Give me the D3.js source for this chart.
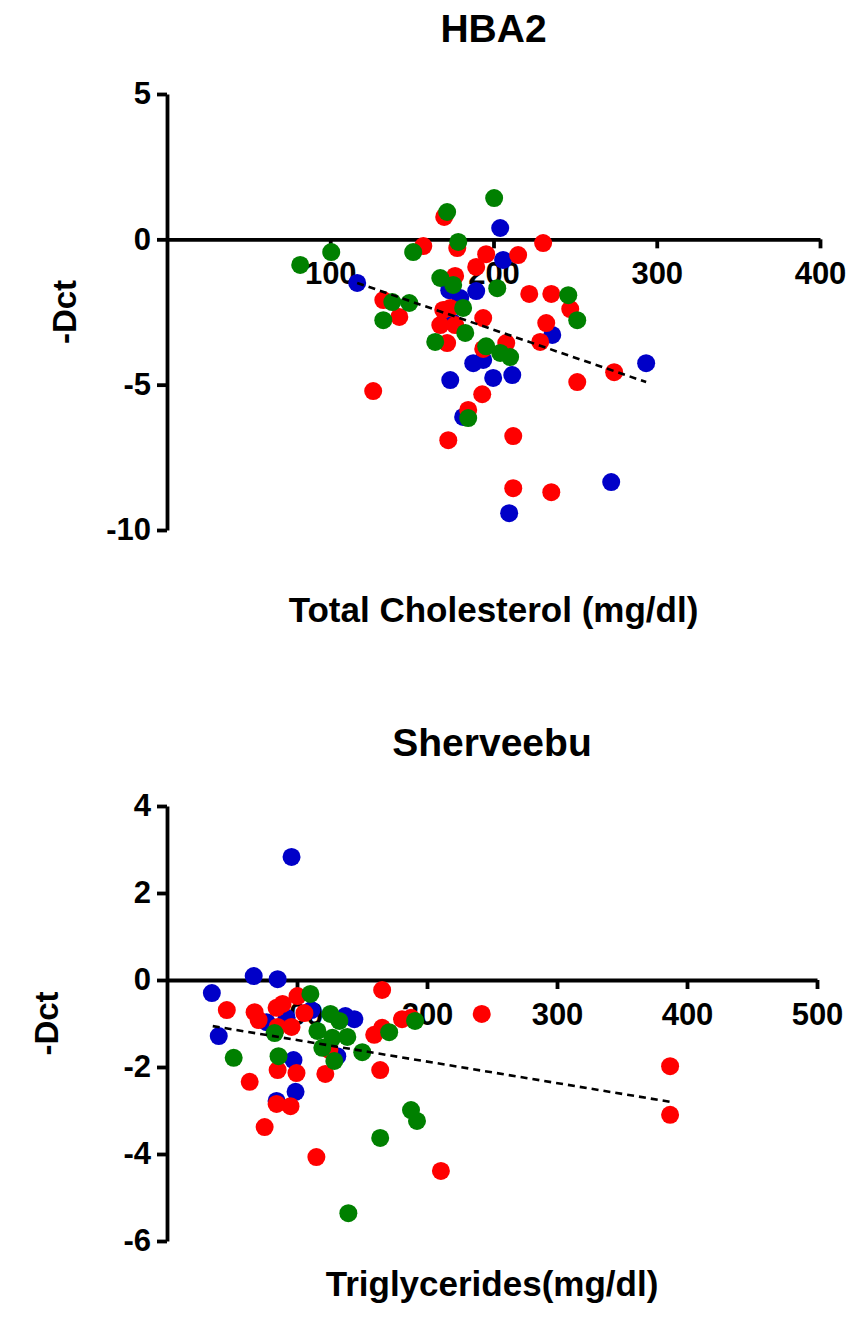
<!DOCTYPE html>
<html>
<head>
<meta charset="utf-8">
<script src="https://cdn.jsdelivr.net/npm/d3@7"></script>
<style>
    body { margin: 0; background: white; }
    text { font-family: "Liberation Sans", Arial, sans-serif; font-weight: bold; fill: black; }
</style>
</head>
<body>
<script>
"use strict";
(function(){

    // HBA2 vs Total Cholesterol, [x, y] per group
    const hbaBlue = [
        [116.5, -1.50], [172.9, -1.75], [179.6, -2.02], [189.4, -1.78], [174.7, -2.85],
        [204.1, 0.39], [205.9, -0.71], [236.0, -3.29], [187.6, -4.26], [193.7, -4.15],
        [173.5, -4.84], [199.8, -4.77], [211.5, -4.67], [293.5, -4.26], [272.1, -8.35],
        [209.6, -9.42], [181.4, -6.11]
    ]
    const hbaRed = [
        [157.0, -0.23], [169.8, 0.77], [177.8, -0.30], [195.5, -0.51], [215.1, -0.54],
        [230.4, -0.13], [189.4, -0.95], [176.5, -1.26], [221.9, -1.88], [235.4, -1.88],
        [247.0, -2.40], [132.5, -2.09], [142.3, -2.67], [169.2, -2.43], [173.5, -2.36],
        [167.4, -2.95], [176.5, -2.95], [193.7, -2.71], [171.6, -3.57], [232.3, -2.88],
        [228.6, -3.53], [193.7, -3.77], [207.8, -3.57], [273.9, -4.57], [251.3, -4.91],
        [126.3, -5.22], [193.1, -5.33], [184.5, -5.87], [172.3, -6.91], [212.1, -6.77],
        [212.1, -8.56], [235.4, -8.70]
    ]
    const hbaGreen = [
        [81.6, -0.88], [100.6, -0.44], [150.8, -0.44], [171.6, 0.94], [178.4, -0.09],
        [200.4, 1.42], [167.4, -1.33], [175.3, -1.57], [202.3, -1.68], [138.0, -2.16],
        [148.4, -2.19], [132.5, -2.78], [181.4, -2.36], [164.3, -3.53], [182.7, -3.22],
        [195.5, -3.68], [204.1, -3.91], [210.2, -4.05], [245.8, -1.92], [251.3, -2.78],
        [184.5, -6.15]
    ]
    const hbaTrend = [[116.5, -1.50], [293.5, -4.91]]
    const hbaXTicks = [100, 200, 300, 400]
    const hbaYTicks = [5, 0, -5, -10]

    // Sherveebu vs Triglycerides
    const shBlue = [
        [95.8, 2.83], [34.5, -0.30], [66.7, 0.09], [85.1, 0.02], [39.8, -1.29],
        [76.6, -0.97], [92.0, -0.87], [111.1, -0.69], [137.2, -0.83], [144.1, -0.90],
        [97.3, -1.84], [98.9, -2.57], [84.3, -2.78], [131.0, -1.75]
    ]
    const shRed = [
        [46.0, -0.69], [67.4, -0.74], [70.5, -0.92], [84.3, -0.64], [88.9, -0.55],
        [85.1, -1.08], [95.8, -1.08], [100.4, -0.37], [105.7, -0.76], [85.1, -2.07],
        [99.6, -2.14], [63.6, -2.34], [84.3, -2.85], [95.0, -2.90], [75.1, -3.38],
        [114.9, -4.07], [121.8, -2.16], [124.9, -1.61], [159.4, -1.26], [165.5, -1.10],
        [164.0, -2.07], [165.5, -0.23], [180.8, -0.90], [187.7, -0.87], [210.7, -4.39],
        [242.1, -0.78], [387.0, -1.98], [387.0, -3.10]
    ]
    const shGreen = [
        [110.3, -0.32], [125.7, -0.78], [132.6, -0.94], [115.7, -1.17], [127.2, -1.33],
        [138.7, -1.31], [119.5, -1.56], [128.7, -1.86], [150.2, -1.66], [170.9, -1.20],
        [190.8, -0.94], [82.8, -1.22], [51.3, -1.79], [85.8, -1.75], [187.7, -2.99],
        [192.3, -3.24], [164.0, -3.63], [139.5, -5.36]
    ]
    const shTrend = [[35.2, -1.06], [387.0, -2.80]]
    const shXTicks = [100, 200, 300, 400, 500]
    const shYTicks = [4, 2, 0, -2, -4, -6]

    const colors = {
        blue: "#0000C8",
        red: "#FF0000",
        green: "#008000"
    }

    const svgContainer = d3.select("body").append("svg")
        .attr("width", 850)
        .attr("height", 1318)

    drawPanel({
        title: "HBA2", xLabel: "Total Cholesterol (mg/dl)",
        xDomain: [0, 400], xRange: [167, 820],
        yDomain: [-10, 5], yRange: [530, 94],
        xTicks: hbaXTicks, yTicks: hbaYTicks,
        groups: [[hbaBlue, colors.blue], [hbaRed, colors.red], [hbaGreen, colors.green]],
        trend: hbaTrend,
        titleY: 42, xLabelY: 622, yLabelX: 76
    })

    drawPanel({
        title: "Sherveebu", xLabel: "Triglycerides(mg/dl)",
        xDomain: [0, 500], xRange: [167, 817],
        yDomain: [-6, 4], yRange: [1241, 806],
        xTicks: shXTicks, yTicks: shYTicks,
        groups: [[shBlue, colors.blue], [shRed, colors.red], [shGreen, colors.green]],
        trend: shTrend,
        titleY: 756, xLabelY: 1296, yLabelX: 58
    })

    function drawPanel(p) {
        const scaleX = d3.scaleLinear().domain(p.xDomain).range(p.xRange)
        const scaleY = d3.scaleLinear().domain(p.yDomain).range(p.yRange)

        const g = svgContainer.append("g")

        const yAxis = d3.axisLeft(scaleY)
            .tickValues(p.yTicks)
            .tickFormat(d => String(d))
            .tickSize(10)
            .tickSizeOuter(0)
            .tickPadding(6)

        const xAxis = d3.axisBottom(scaleX)
            .tickValues(p.xTicks)
            .tickFormat(d => String(d))
            .tickSize(9)
            .tickSizeOuter(0)
            .tickPadding(14)

        const yG = g.append("g")
            .attr("transform", "translate(" + p.xRange[0] + ",0)")
            .call(yAxis)

        const xG = g.append("g")
            .attr("transform", "translate(0," + scaleY(0) + ")")
            .call(xAxis)

        for (const ax of [xG, yG]) {
            ax.select(".domain").attr("stroke", "black").attr("stroke-width", 3.8)
            ax.selectAll(".tick line").attr("stroke", "black").attr("stroke-width", 3.8)
            ax.selectAll(".tick text")
                .attr("fill", "black")
                .style("font-size", "31px")
                .style("font-family", "'Liberation Sans', Arial, sans-serif")
                .style("font-weight", "bold")
        }

        p.groups.forEach(([pts, color]) => {
            g.append("g").selectAll("circle")
                .data(pts)
                .enter()
                .append("circle")
                    .attr("cx", d => scaleX(d[0]))
                    .attr("cy", d => scaleY(d[1]))
                    .attr("r", 9)
                    .attr("fill", color)
        })

        g.append("path")
            .datum(p.trend)
            .attr("d", d3.line().x(d => scaleX(d[0])).y(d => scaleY(d[1])))
            .attr("fill", "none")
            .attr("stroke", "black")
            .attr("stroke-width", 2.6)
            .attr("stroke-dasharray", "7,5")

        const midX = (p.xRange[0] + p.xRange[1]) / 2
        const midY = (p.yRange[0] + p.yRange[1]) / 2

        g.append("text")
            .attr("x", midX)
            .attr("y", p.titleY)
            .attr("text-anchor", "middle")
            .style("font-size", "39px")
            .text(p.title)

        g.append("text")
            .attr("x", midX)
            .attr("y", p.xLabelY)
            .attr("text-anchor", "middle")
            .style("font-size", "35px")
            .text(p.xLabel)

        g.append("text")
            .attr("text-anchor", "middle")
            .attr("transform", "translate(" + p.yLabelX + "," + midY + ")rotate(-90)")
            .style("font-size", "33px")
            .text("-Dct")
    }
})()
</script>
</body>
</html>
